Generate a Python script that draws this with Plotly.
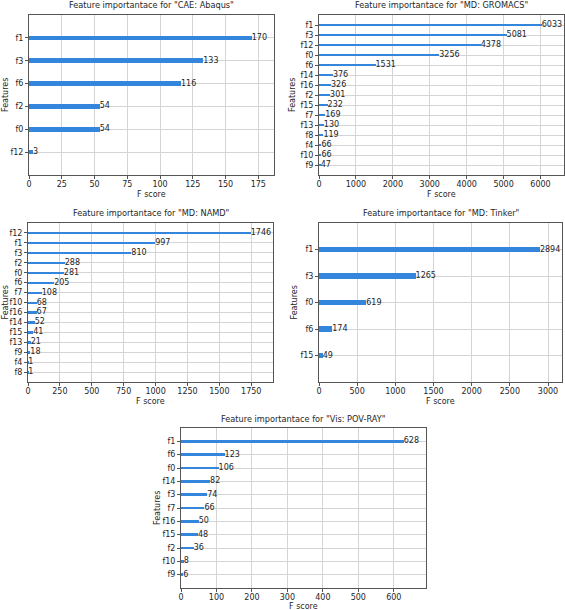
import plotly.graph_objects as go

W, H = 565, 610

# ---- data (bottom-to-top order, as plotted) ----
abaqus_features = ["f12", "f0", "f2", "f6", "f3", "f1"]
abaqus_scores = [3, 54, 54, 116, 133, 170]

gromacs_features = ["f9", "f10", "f4", "f8", "f13", "f7", "f15", "f2", "f16", "f14", "f6", "f0", "f12", "f3", "f1"]
gromacs_scores = [47, 66, 66, 119, 130, 169, 232, 301, 326, 376, 1531, 3256, 4378, 5081, 6033]

namd_features = ["f8", "f4", "f9", "f13", "f15", "f14", "f16", "f10", "f7", "f6", "f0", "f2", "f3", "f1", "f12"]
namd_scores = [1, 1, 18, 21, 41, 52, 67, 68, 108, 205, 281, 288, 810, 997, 1746]

tinker_features = ["f15", "f6", "f0", "f3", "f1"]
tinker_scores = [49, 174, 619, 1265, 2894]

povray_features = ["f9", "f10", "f2", "f15", "f16", "f7", "f3", "f14", "f0", "f6", "f1"]
povray_scores = [6, 8, 36, 48, 50, 66, 74, 82, 106, 123, 628]

titles = ['Feature importantace for "CAE: Abaqus"',
          'Feature importantace for "MD: GROMACS"',
          'Feature importantace for "MD: NAMD"',
          'Feature importantace for "MD: Tinker"',
          'Feature importantace for "Vis: POV-RAY"']
x_dticks = [25, 1000, 250, 500, 100]

# ---- layout (pixel boxes: left, right, top, bottom, title_y, xlabel_y, ylabel_x) ----
boxes = [
    (29, 274, 15, 175, 5.5, 194, 5),
    (319, 564, 15, 175, 5.5, 194, 292),
    (28, 273, 223, 382, 213, 401, 5),
    (319, 562, 223, 382, 213, 401, 294),
    (181, 426, 428, 588, 419, 606, 157),
]

panels = [
    (abaqus_features, abaqus_scores),
    (gromacs_features, gromacs_scores),
    (namd_features, namd_scores),
    (tinker_features, tinker_scores),
    (povray_features, povray_scores),
]

FONT = "DejaVu Sans"
TXT = "#262626"
BAR = "#3386dc"
GRID = "#d4d4d4"
SPINE = "#555555"

fig = go.Figure()
annotations = []

def px(x):
    return x / W

def py(y):
    return 1 - y / H

for i, ((feats, scores), (L, R, T, B, ty, xly, ylx), title, dt) in enumerate(zip(panels, boxes, titles, x_dticks)):
    n = i + 1
    xa = "x" if n == 1 else f"x{n}"
    ya = "y" if n == 1 else f"y{n}"
    fig.add_trace(go.Bar(
        x=scores, y=feats, orientation="h", width=0.2,
        marker=dict(color=BAR, line=dict(width=0)),
        xaxis=xa, yaxis=ya, showlegend=False, hoverinfo="x+y",
    ))
    fig.add_trace(go.Scatter(
        x=scores, y=feats, mode="text", text=[str(s) for s in scores],
        textposition="middle right", textfont=dict(family=FONT, size=8, color=TXT),
        xaxis=xa, yaxis=ya, showlegend=False, cliponaxis=False, hoverinfo="skip",
    ))
    axis_common = dict(
        showline=True, linecolor=SPINE, linewidth=1, mirror=True,
        showgrid=True, gridcolor=GRID, gridwidth=1, zeroline=False,
        ticks="outside", ticklen=3, tickcolor=SPINE, automargin=False,
        tickfont=dict(family=FONT, size=8, color=TXT),
    )
    fig.layout[("xaxis" if n == 1 else f"xaxis{n}")] = dict(
        domain=[px(L), px(R)], anchor=ya, range=[0, max(scores) * 1.1],
        dtick=dt, tick0=0, ticklabelstandoff=-2, **axis_common,
    )
    fig.layout[("yaxis" if n == 1 else f"yaxis{n}")] = dict(
        domain=[py(B), py(T)], anchor=xa, type="category",
        categoryorder="array", categoryarray=feats, dtick=1,
        range=[-1, len(feats)], **axis_common,
    )
    annotations.append(dict(
        text=title, x=px((L + R) / 2), y=py(ty), xref="paper", yref="paper",
        xanchor="center", yanchor="middle", showarrow=False,
        font=dict(family=FONT, size=8.2, color=TXT),
    ))
    annotations.append(dict(
        text="F score", x=px((L + R) / 2), y=py(xly), xref="paper", yref="paper",
        xanchor="center", yanchor="middle", showarrow=False,
        font=dict(family=FONT, size=8, color=TXT),
    ))
    annotations.append(dict(
        text="Features", x=px(ylx), y=py((T + B) / 2), xref="paper", yref="paper",
        xanchor="center", yanchor="middle", showarrow=False, textangle=-90,
        font=dict(family=FONT, size=8, color=TXT),
    ))

fig.update_layout(
    width=W, height=H, margin=dict(l=0, r=0, t=0, b=0),
    paper_bgcolor="white", plot_bgcolor="white",
    annotations=annotations, bargap=0,
)

fig.write_html("out.html", config={"displayModeBar": False},
               post_script="document.body.style.margin='0';")
